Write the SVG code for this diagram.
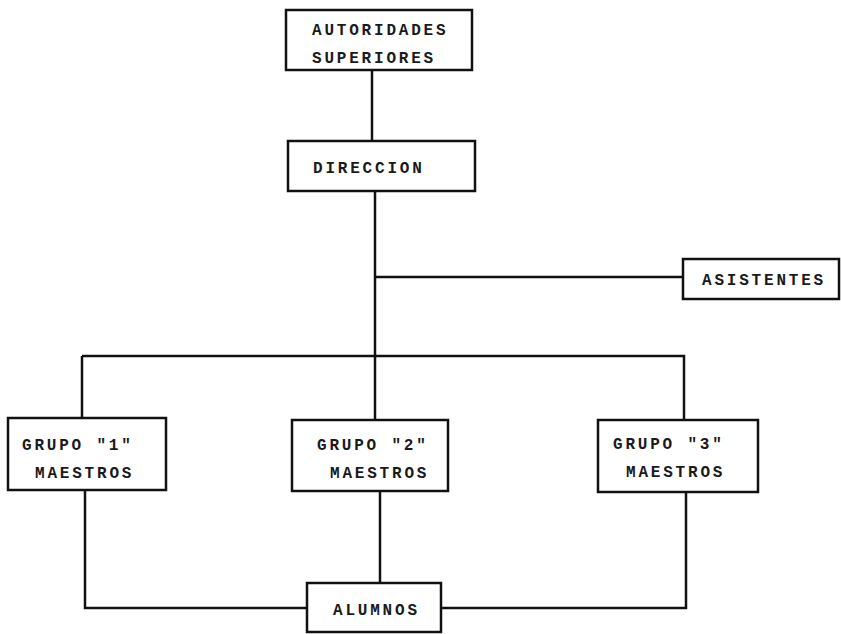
<svg xmlns="http://www.w3.org/2000/svg" width="841" height="634" viewBox="0 0 841 634">
<style>
.box{fill:#fff;stroke:#111;stroke-width:2.5}
.ln{fill:none;stroke:#111;stroke-width:2.5}
text{font-family:"Liberation Mono","DejaVu Sans Mono",monospace;font-size:16px;font-weight:bold;fill:#1a1a1a;letter-spacing:2.8px}
</style>
<rect width="841" height="634" fill="#fff"/>
<g id="connectors">
<path class="ln" d="M372 70 V141"/>
<path class="ln" d="M375 191 V420"/>
<path class="ln" d="M375 277 H683"/>
<path class="ln" d="M82 356 H684 V420"/>
<path class="ln" d="M82 356 V418"/>
<path class="ln" d="M85 490 V608 H307"/>
<path class="ln" d="M380 491 V583"/>
<path class="ln" d="M686 492 V608 H441"/>
</g>
<g id="autoridades">
<rect class="box" x="286" y="10" width="186" height="60"/>
<text x="312" y="35">AUTORIDADES</text>
<text x="312" y="63">SUPERIORES</text>
</g>
<g id="direccion">
<rect class="box" x="288" y="141" width="187" height="50"/>
<text x="313" y="173">DIRECCION</text>
</g>
<g id="asistentes">
<rect class="box" x="683" y="259" width="156" height="40"/>
<text x="702" y="285">ASISTENTES</text>
</g>
<g id="grupo1">
<rect class="box" x="8" y="418" width="158" height="72"/>
<text x="22" y="450">GRUPO "1"</text>
<text x="35" y="478">MAESTROS</text>
</g>
<g id="grupo2">
<rect class="box" x="292" y="420" width="156" height="71"/>
<text x="317" y="450">GRUPO "2"</text>
<text x="330" y="478">MAESTROS</text>
</g>
<g id="grupo3">
<rect class="box" x="598" y="420" width="160" height="72"/>
<text x="613" y="449">GRUPO "3"</text>
<text x="626" y="477">MAESTROS</text>
</g>
<g id="alumnos">
<rect class="box" x="307" y="583" width="134" height="49"/>
<text x="333" y="615">ALUMNOS</text>
</g>
</svg>
